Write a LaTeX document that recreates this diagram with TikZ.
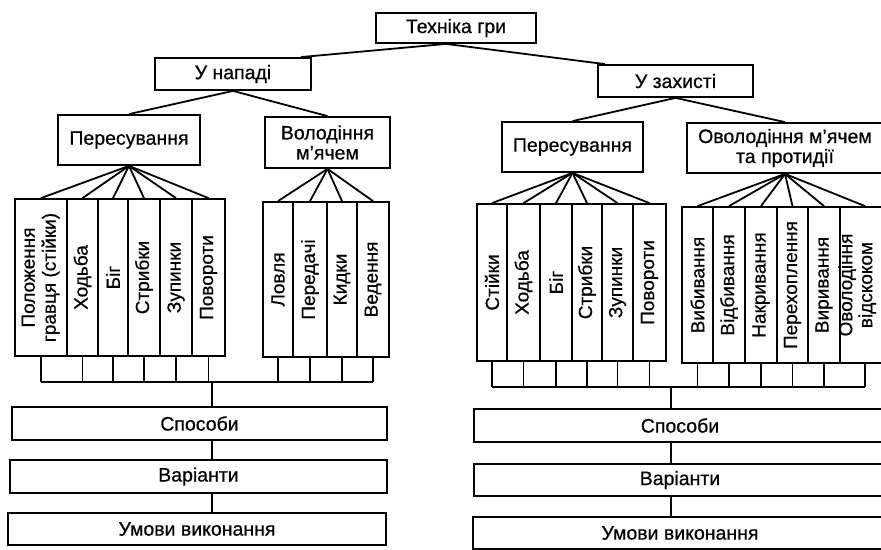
\documentclass[tikz,border=0pt]{standalone}
\usepackage{fontspec}
\setmainfont[FakeBold=0.6]{Liberation Sans}
\usetikzlibrary{calc}
\begin{document}
\begin{tikzpicture}[x=1pt,y=-1pt,
  box/.style={draw, line width=1.8pt, inner sep=0pt, align=center, font=\fontsize{19.5}{20}\selectfont},
  vbox/.style={draw, line width=1.8pt, inner sep=0pt, font=\fontsize{19}{21}\selectfont},
  con/.style={line width=1.8pt}]
\useasboundingbox (0,0) rectangle (881,549);
\clip (0,0) rectangle (881,549);
% top levels
\node[box, minimum width=160pt, minimum height=30pt] (tech) at (456,28) {Техніка гри};
\node[box, minimum width=156pt, minimum height=32pt] (nap) at (233,74) {У нападі};
\node[box, minimum width=155pt, minimum height=32pt] (zah) at (675.5,81) {У захисті};
\node[box, minimum width=142pt, minimum height=50pt] (per1) at (129,140) {Пересування};
\node[box, minimum width=125pt, minimum height=51pt] (vol) at (327.5,142.5) {Володіння\\м’ячем};
\node[box, minimum width=141pt, minimum height=50pt] (per2) at (572.5,147) {Пересування};
\node[box, minimum width=196pt, minimum height=50pt] (ovo) at (785,148) {Оволодіння м’ячем\\та протидії};
\draw[con] ([xshift=-10pt]tech.south) -- ($(nap.north west)!0.93!(nap.north east)$);
\draw[con] ([xshift=-10pt]tech.south) -- ($(zah.north west)!0.05!(zah.north east)$);
\draw[con] (nap.south) -- (per1.north);
\draw[con] (nap.south) -- (vol.north);
\draw[con] (zah.south) -- (per2.north);
\draw[con] (zah.south) -- (ovo.north);
% group A
\begin{scope}[every node/.style={vbox, minimum height=157pt}]
\node[minimum width=52pt] (a1) at (41,277.5) {\rotatebox{90}{\begin{tabular}{@{}c@{}}Положення\\гравця (стійки)\end{tabular}}};
\node[minimum width=31pt] (a2) at (82.5,277.5) {\rotatebox{90}{Ходьба}};
\node[minimum width=30pt] (a3) at (113,277.5) {\rotatebox{90}{Біг}};
\node[minimum width=32pt] (a4) at (144,277.5) {\rotatebox{90}{Стрибки}};
\node[minimum width=32pt] (a5) at (176,277.5) {\rotatebox{90}{Зупинки}};
\node[minimum width=33pt] (a6) at (208.5,277.5) {\rotatebox{90}{Повороти}};
\end{scope}
% group B
\begin{scope}[every node/.style={vbox, minimum height=155pt}]
\node[minimum width=30pt] (b1) at (278,279.5) {\rotatebox{90}{Ловля}};
\node[minimum width=34pt] (b2) at (310,279.5) {\rotatebox{90}{Передачі}};
\node[minimum width=30pt] (b3) at (342,279.5) {\rotatebox{90}{Кидки}};
\node[minimum width=32pt] (b4) at (373,279.5) {\rotatebox{90}{Ведення}};
\end{scope}
% group C
\begin{scope}[every node/.style={vbox, minimum height=157pt}]
\node[minimum width=30pt] (c1) at (492,282.5) {\rotatebox{90}{Стійки}};
\node[minimum width=33pt] (c2) at (523.5,282.5) {\rotatebox{90}{Ходьба}};
\node[minimum width=32pt] (c3) at (556,282.5) {\rotatebox{90}{Біг}};
\node[minimum width=30pt] (c4) at (587,282.5) {\rotatebox{90}{Стрибки}};
\node[minimum width=31pt] (c5) at (617.5,282.5) {\rotatebox{90}{Зупинки}};
\node[minimum width=33pt] (c6) at (649.5,282.5) {\rotatebox{90}{Повороти}};
\end{scope}
% group D
\begin{scope}[every node/.style={vbox, minimum height=156pt}]
\node[minimum width=31pt] (d1) at (697.5,285) {\rotatebox{90}{Вибивання}};
\node[minimum width=32pt] (d2) at (729,285) {\rotatebox{90}{Відбивання}};
\node[minimum width=32pt] (d3) at (761,285) {\rotatebox{90}{Накривання}};
\node[minimum width=31pt] (d4) at (792.5,285) {\rotatebox{90}{Перехоплення}};
\node[minimum width=32pt] (d5) at (824,285) {\rotatebox{90}{Виривання}};
\node[minimum width=50pt] (d6) at (865,285) {\rotatebox{90}{\raisebox{7pt}[\height][\depth]{\begin{tabular}{@{}c@{}}Оволодіння\\[-1pt]відскоком\end{tabular}}}};
\end{scope}
% fans
\foreach \b in {a1,a2,a3,a4,a5,a6} \draw[con] (per1.south) -- (\b.north);
\foreach \b in {b1,b2,b3,b4} \draw[con] (vol.south) -- (\b.north);
\foreach \b in {c1,c2,c3,c4,c5,c6} \draw[con] (per2.south) -- (\b.north);
\foreach \b in {d1,d2,d3,d4,d5,d6} \draw[con] (ovo.south) -- (\b.north);
% bottom boxes
\node[box, minimum width=375pt, minimum height=33pt] (sp1) at (199.5,423.5) {Способи};
\node[box, minimum width=377pt, minimum height=33pt] (va1) at (198.5,476.5) {Варіанти};
\node[box, minimum width=378pt, minimum height=32pt] (um1) at (197,529) {Умови виконання};
\node[box, minimum width=412pt, minimum height=33pt] (sp2) at (680,425.5) {Способи};
\node[box, minimum width=412pt, minimum height=32pt] (va2) at (680,480) {Варіанти};
\node[box, minimum width=414pt, minimum height=32pt] (um2) at (680,533) {Умови виконання};
% combs
\coordinate (combL) at (212,382);
\coordinate (combR) at (671,387);
\foreach \b in {a1,a2,a3,a4,a5,a6,b1,b2,b3,b4} \draw[con] (\b.south) -- (\b.south |- combL);
\draw[con] (a1.south |- combL) -- (b4.south |- combL);
\foreach \b in {c1,c2,c3,c4,c5,c6,d1,d2,d3,d4,d5,d6} \draw[con] (\b.south) -- (\b.south |- combR);
\draw[con] (c1.south |- combR) -- (d6.south |- combR);
\draw[con] (combL) -- (combL |- sp1.north);
\draw[con] (combL |- sp1.south) -- (combL |- va1.north);
\draw[con] (combL |- va1.south) -- (combL |- um1.north);
\draw[con] (combR) -- (combR |- sp2.north);
\draw[con] (combR |- sp2.south) -- (combR |- va2.north);
\draw[con] (combR |- va2.south) -- (combR |- um2.north);
\end{tikzpicture}
\end{document}
